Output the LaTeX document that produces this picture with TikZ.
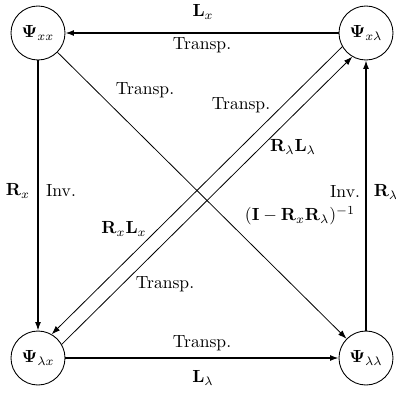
\documentclass[tikz,border=0pt]{standalone}
\usetikzlibrary{arrows.meta}
\begin{document}
\begin{tikzpicture}[x=0.2mm,y=-0.2mm,
  psi/.style={draw,circle,minimum size=10.8mm,inner sep=0pt,line width=0.5pt},
  lbl/.style={inner sep=0pt},
  edgeh/.style={line width=0.75pt,-{Latex[length=1.7mm,width=1.2mm]}},
  edged/.style={line width=0.45pt,-{Latex[length=1.7mm,width=1.2mm]}}]
\useasboundingbox (0,0) rectangle (396,394);
\node[psi] (xx) at (38,33) {$\mathbf{\Psi}_{xx}$};
\node[psi] (xl) at (366,33) {$\mathbf{\Psi}_{x\lambda}$};
\node[psi] (lx) at (38,358) {$\mathbf{\Psi}_{\lambda x}$};
\node[psi] (ll) at (366,358) {$\mathbf{\Psi}_{\lambda\lambda}$};
% edges
\draw[edgeh] (xl) -- (xx);
\draw[edgeh] (xx) -- (lx);
\draw[edgeh] (ll) -- (xl);
\draw[edgeh] (lx) -- (ll);
\draw[edged] (xx) -- (ll);
\draw[edged] (xl.210) -- (lx.60);
\draw[edged] (lx.30) -- (xl.240);
% labels
\node[lbl] (t1) at (203,12) {$\mathbf{L}_x$};
\node[lbl] (t2) at (202,45) {Transp.};
\node[lbl] (t3) at (18,191) {$\mathbf{R}_x$};
\node[lbl] (t4) at (61,191) {Inv.};
\node[lbl] (t5) at (345,192) {Inv.};
\node[lbl] (t6) at (386,192) {$\mathbf{R}_\lambda$};
\node[lbl] (t7) at (202,343) {Transp.};
\node[lbl] (t8) at (203,378) {$\mathbf{L}_\lambda$};
\node[lbl] (t9) at (145,90) {Transp.};
\node[lbl] (t10) at (300,216) {$(\mathbf{I}-\mathbf{R}_x\mathbf{R}_\lambda)^{-1}$};
\node[lbl] (t11) at (241,105) {Transp.};
\node[lbl] (t12) at (293,147) {$\mathbf{R}_\lambda\mathbf{L}_\lambda$};
\node[lbl] (t13) at (124,229) {$\mathbf{R}_x\mathbf{L}_x$};
\node[lbl] (t14) at (165,284) {Transp.};
\end{tikzpicture}
\end{document}
